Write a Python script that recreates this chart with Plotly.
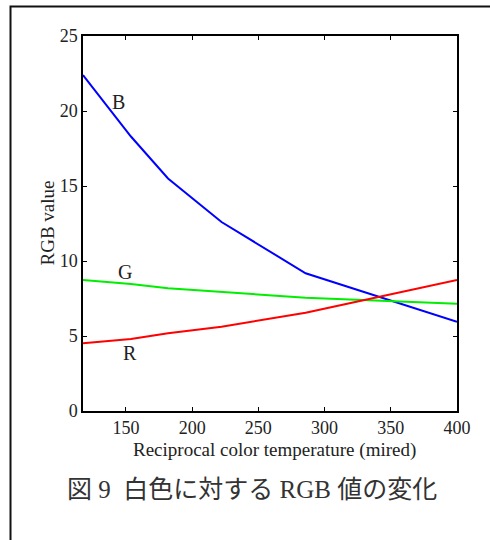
import plotly.graph_objects as go

# Reciprocal color temperature (mired)
mired = [117.6, 153.8, 181.8, 222.2, 285.7, 400.0]
r_vals = [4.51, 4.80, 5.18, 5.62, 6.55, 8.73]
g_vals = [8.73, 8.47, 8.18, 7.95, 7.55, 7.15]
b_vals = [22.40, 18.30, 15.50, 12.60, 9.18, 5.95]

x_ticks = [150, 200, 250, 300, 350, 400]
y_ticks = [0, 5, 10, 15, 20, 25]

SERIF = "Liberation Serif, Times New Roman, serif"
TXT = "#222222"

fig = go.Figure()
fig.add_trace(go.Scatter(x=mired, y=b_vals, mode="lines", line=dict(color="#0000ff", width=2), showlegend=False))
fig.add_trace(go.Scatter(x=mired, y=g_vals, mode="lines", line=dict(color="#00ee00", width=2), showlegend=False))
fig.add_trace(go.Scatter(x=mired, y=r_vals, mode="lines", line=dict(color="#ff0000", width=2), showlegend=False))

W, H = 490, 540
L, R, T, B = 83, 33, 36, 129
pw, ph = W - L - R, H - T - B

def px_x(p):
    return (p - L) / pw

def px_y(p):
    return (H - B - p) / ph

fig.update_layout(
    width=W, height=H,
    margin=dict(l=L, r=R, t=T, b=B),
    paper_bgcolor="white", plot_bgcolor="white",
    font=dict(family=SERIF, size=18, color=TXT),
    xaxis=dict(range=[117.6, 400], tickvals=x_ticks, ticks="inside", ticklen=4,
               tickcolor="black", tickwidth=1, showline=True, linecolor="black",
               linewidth=1.5, mirror="ticks", showgrid=False, zeroline=False,
               tickfont=dict(family=SERIF, size=18, color=TXT)),
    yaxis=dict(range=[0, 25], tickvals=y_ticks, ticks="inside", ticklen=4,
               tickcolor="black", tickwidth=1, showline=True, linecolor="black",
               linewidth=1.5, mirror="ticks", showgrid=False, zeroline=False,
               tickfont=dict(family=SERIF, size=18, color=TXT)),
)

def ann(**kw):
    kw.setdefault("showarrow", False)
    kw.setdefault("xanchor", "center")
    kw.setdefault("yanchor", "middle")
    fig.add_annotation(**kw)

# curve labels
ann(x=144.5, y=20.6, text="B", font=dict(family=SERIF, size=20, color=TXT))
ann(x=149.5, y=9.25, text="G", font=dict(family=SERIF, size=20, color=TXT))
ann(x=153.0, y=3.9, text="R", font=dict(family=SERIF, size=20, color=TXT))

# axis titles
ann(xref="paper", yref="paper", x=px_x(274), y=px_y(450), text="Reciprocal color temperature (mired)",
    font=dict(family=SERIF, size=19, color=TXT), borderpad=0)
ann(xref="paper", yref="paper", x=px_x(47), y=0.5, text="RGB value", textangle=-90,
    font=dict(family=SERIF, size=19, color=TXT))

# caption
ann(xref="paper", yref="paper", x=px_x(252), y=px_y(489),
    text="図 9\u00a0\u00a0白色に対する RGB 値の変化",
    font=dict(family="Liberation Serif, Noto Sans CJK JP", size=25, color="#333333"))

# outer frame (only top and left edges visible)
fig.add_shape(type="rect", xref="paper", yref="paper",
              x0=px_x(10.5), x1=px_x(700), y0=px_y(800), y1=px_y(6.5),
              line=dict(color="#111111", width=2), layer="above")

fig.write_html("out.html")
